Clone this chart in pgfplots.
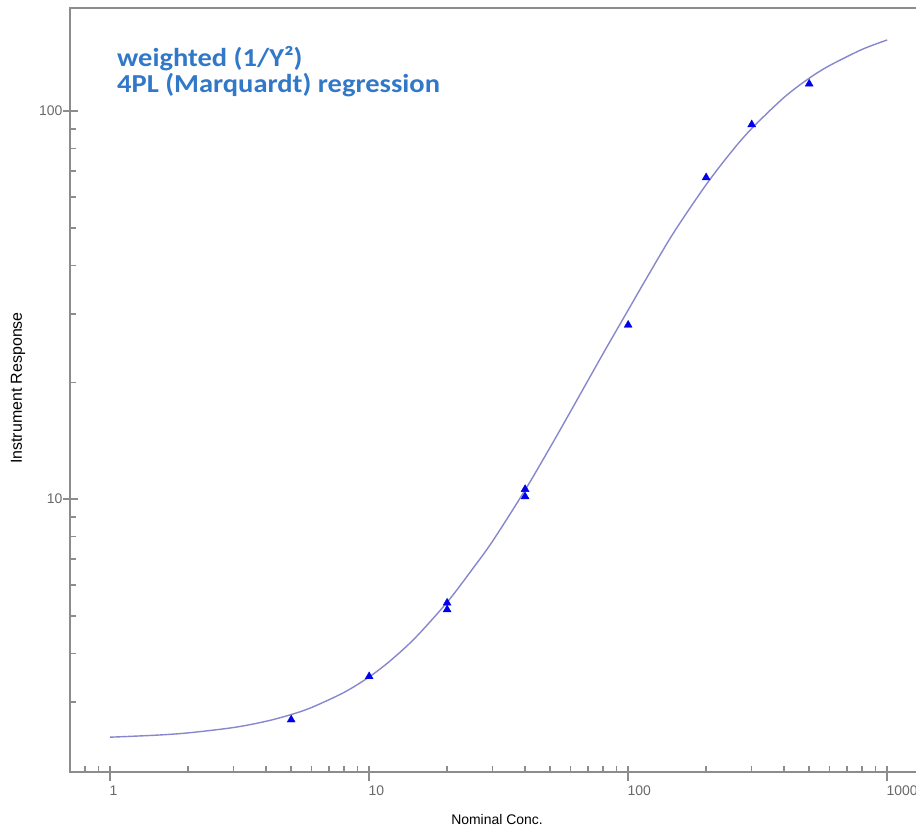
\documentclass[border=0pt]{standalone}
\usepackage{pgfplots}
\pgfplotsset{compat=1.18}
\usepackage{fontspec}
\setmainfont{Liberation Sans}
\newfontfamily\calibri{Carlito}
\definecolor{axisgray}{RGB}{140,140,140}
\definecolor{labgray}{RGB}{105,105,105}
\definecolor{fitline}{RGB}{135,135,205}
\definecolor{ptblue}{RGB}{0,0,235}
\definecolor{noteblue}{RGB}{50,120,200}

\begin{document}
\begin{tikzpicture}[x=1bp,y=1bp]
\begin{axis}[
  at={(70bp,56bp)}, anchor=south west,
  scale only axis, width=855bp, height=764bp,
  xmode=log, ymode=log,
  xmin=0.7, xmax=1400, ymin=1.98, ymax=184.4,
  axis line style={axisgray, line width=1.8bp},
  xtick={1,10,100,1000}, xticklabels={1,10,100,1000},
  ytick={10,100}, yticklabels={10,100},
  minor xtick={0.8,0.9,2,3,4,5,6,7,8,9,20,30,40,50,60,70,80,90,200,300,400,500,600,700,800,900},
  minor ytick={3,4,5,6,7,8,9,20,30,40,50,60,70,80,90},
  xtick pos=bottom, ytick pos=left,
  tick align=inside,
  major tick length=15bp, minor tick length=6bp,
  tick style={axisgray, line width=1.4bp},
  every major x tick/.append style={yshift=-9bp},
  every major y tick/.append style={xshift=-7bp},
  xticklabel style={font=\fontsize{14}{16}\selectfont, text=labgray, anchor=north west, xshift=-4bp, yshift=-10bp},
  yticklabel style={font=\fontsize{14}{16}\selectfont, text=labgray, anchor=east, xshift=-4bp},
  clip=false,
]
% fitted 4PL curve
\addplot[fitline, line width=1.4bp, smooth] coordinates {
  (1,2.434) (1.5,2.463) (2,2.497) (3,2.578) (4,2.675) (5,2.784) (6,2.904)
  (8,3.175) (10,3.48) (12,3.82) (15,4.376) (20,5.42) (25,6.59) (30,7.8)
  (40,10.55) (50,13.6) (60,16.85) (80,23.7) (100,30.7) (120,37.9)
  (150,48.65) (200,64.61) (250,78.45) (300,90.2) (400,108.48) (500,121.54)
  (600,131.07) (800,144.2) (1000,152.5)
};
% calibration standards
\addplot[only marks, mark=triangle*, mark size=4.6bp, ptblue] coordinates {
  (5,2.70) (10,3.49) (20,5.40) (20,5.19) (40,10.6) (40,10.15)
  (100,28.1) (200,67.4) (300,92.3) (500,117.5)
};
\end{axis}
\node[font=\fontsize{14}{16}\selectfont] at (497,8) {Nominal Conc.};
\node[rotate=90, font=\fontsize{16}{18}\selectfont] at (18,440) {Instrument Response};
\node[anchor=base west, font=\calibri\bfseries\fontsize{26}{30}\selectfont, text=noteblue, inner sep=0pt]
  at (117,761) {\scalebox{1.1}[1]{weighted (1/Y²)}};
\node[anchor=base west, font=\calibri\bfseries\fontsize{26}{30}\selectfont, text=noteblue, inner sep=0pt]
  at (117,735) {\scalebox{1.1}[1]{4PL (Marquardt) regression}};
\pgfresetboundingbox
\useasboundingbox (0,0) rectangle (916,828);
\end{tikzpicture}
\end{document}
